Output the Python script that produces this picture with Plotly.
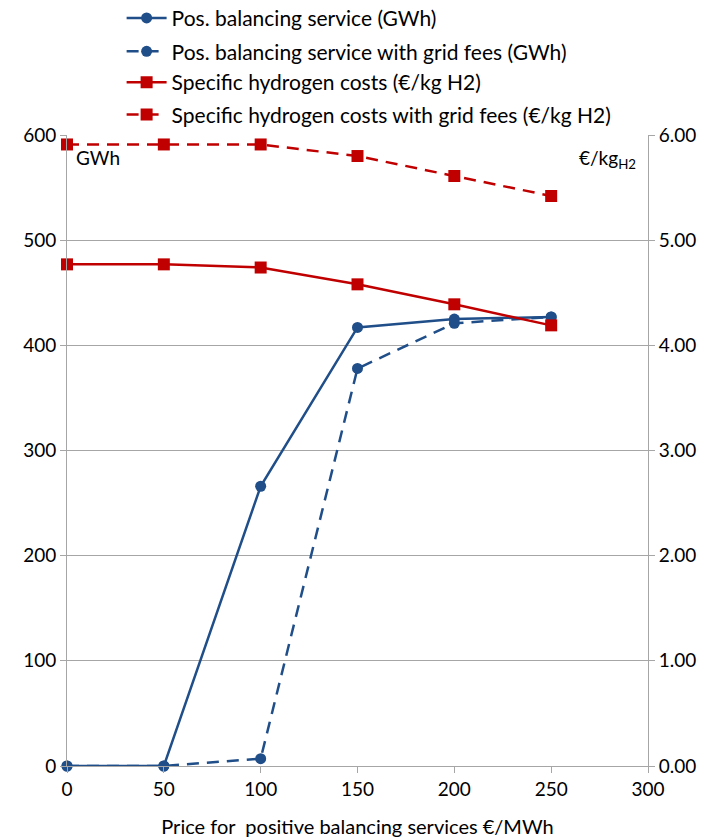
import plotly.graph_objects as go

# Price for positive balancing services (€/MWh)
price = [0, 50, 100, 150, 200, 250]

# Positive balancing service (GWh)
pos_balancing = [0, 0, 266, 417, 425, 427]
pos_balancing_grid_fees = [0, 0, 7, 378, 421, 427]

# Specific hydrogen costs (€/kg H2)
h2_costs = [4.77, 4.77, 4.74, 4.58, 4.39, 4.19]
h2_costs_grid_fees = [5.91, 5.91, 5.91, 5.80, 5.61, 5.42]

left_ticks = [0, 100, 200, 300, 400, 500, 600]
right_ticks = [0, 1, 2, 3, 4, 5, 6]
x_ticks = [0, 50, 100, 150, 200, 250, 300]

BLUE = "#1F4E89"
RED = "#C00000"
GRID = "#A6A6A6"
FONT = "Lato, 'Open Sans', sans-serif"
TICK_SIZE = 19
TEXT_SIZE = 20
LEGEND_SIZE = 21
DASH = "12px,8px"

fig = go.Figure()

series = [
    (pos_balancing, "Pos. balancing service (GWh)", BLUE, "solid", "circle", 11, "y", "legend"),
    (pos_balancing_grid_fees, "Pos. balancing service with grid fees (GWh)", BLUE, DASH, "circle", 11, "y", "legend2"),
    (h2_costs, "Specific hydrogen costs (€/kg H2)", RED, "solid", "square", 12, "y2", "legend3"),
    (h2_costs_grid_fees, "Specific hydrogen costs with grid fees (€/kg H2)", RED, DASH, "square", 12, "y2", "legend4"),
]
for values, name, color, dash, symbol, size, axis, legend in series:
    fig.add_trace(go.Scatter(
        x=price, y=values, name=name, mode="lines+markers",
        line=dict(color=color, width=2.5, dash=dash),
        marker=dict(symbol=symbol, size=size, color=color),
        cliponaxis=False, yaxis=axis, legend=legend))

# one legend box per entry so the rows can be spaced freely
legend_rows = [1.185, 1.132, 1.083, 1.032]
legend_style = dict(
    x=0.094, xanchor="left", yanchor="middle", itemwidth=40,
    font=dict(family=FONT, size=LEGEND_SIZE, color="#000000"),
    bgcolor="rgba(0,0,0,0)", borderwidth=0,
)

fig.update_layout(
    width=708, height=840,
    margin=dict(l=67, r=60, t=135, b=74, autoexpand=False),
    paper_bgcolor="white", plot_bgcolor="white",
    font=dict(family=FONT, size=TICK_SIZE, color="#000000"),
    showlegend=True,
    legend=dict(y=legend_rows[0], **legend_style),
    legend2=dict(y=legend_rows[1], **legend_style),
    legend3=dict(y=legend_rows[2], **legend_style),
    legend4=dict(y=legend_rows[3], **legend_style),
    xaxis=dict(
        range=[0, 300], tickvals=x_ticks, showgrid=False, zeroline=False,
        showline=True, linecolor=GRID, linewidth=1,
        ticks="outside", ticklen=6, tickcolor=GRID,
        tickfont=dict(family=FONT, size=TICK_SIZE),
        title=dict(text="Price for  positive balancing services €/MWh",
                   font=dict(family=FONT, size=TEXT_SIZE), standoff=21),
    ),
    yaxis=dict(
        range=[0, 600], tickvals=left_ticks, showgrid=True, gridcolor=GRID,
        gridwidth=1, zeroline=False, showline=True, linecolor=GRID,
        ticks="outside", ticklen=6, tickcolor=GRID,
        tickfont=dict(family=FONT, size=TICK_SIZE),
    ),
    yaxis2=dict(
        range=[0, 6], tickvals=right_ticks,
        ticktext=[f"{v:.2f}" for v in right_ticks],
        overlaying="y", side="right", showgrid=False, zeroline=False,
        showline=True, linecolor=GRID,
        ticks="outside", ticklen=6, tickcolor=GRID,
        tickfont=dict(family=FONT, size=TICK_SIZE),
    ),
    annotations=[
        dict(text="GWh", xref="paper", yref="paper", x=0.012, y=0.985,
             xanchor="left", yanchor="top", showarrow=False,
             font=dict(family=FONT, size=TICK_SIZE)),
        dict(text="€/kg<sub>H2</sub>", xref="paper", yref="paper", x=0.982,
             y=0.985, xanchor="right", yanchor="top", showarrow=False,
             font=dict(family=FONT, size=TICK_SIZE)),
    ],
)

fig.write_html("out.html")
